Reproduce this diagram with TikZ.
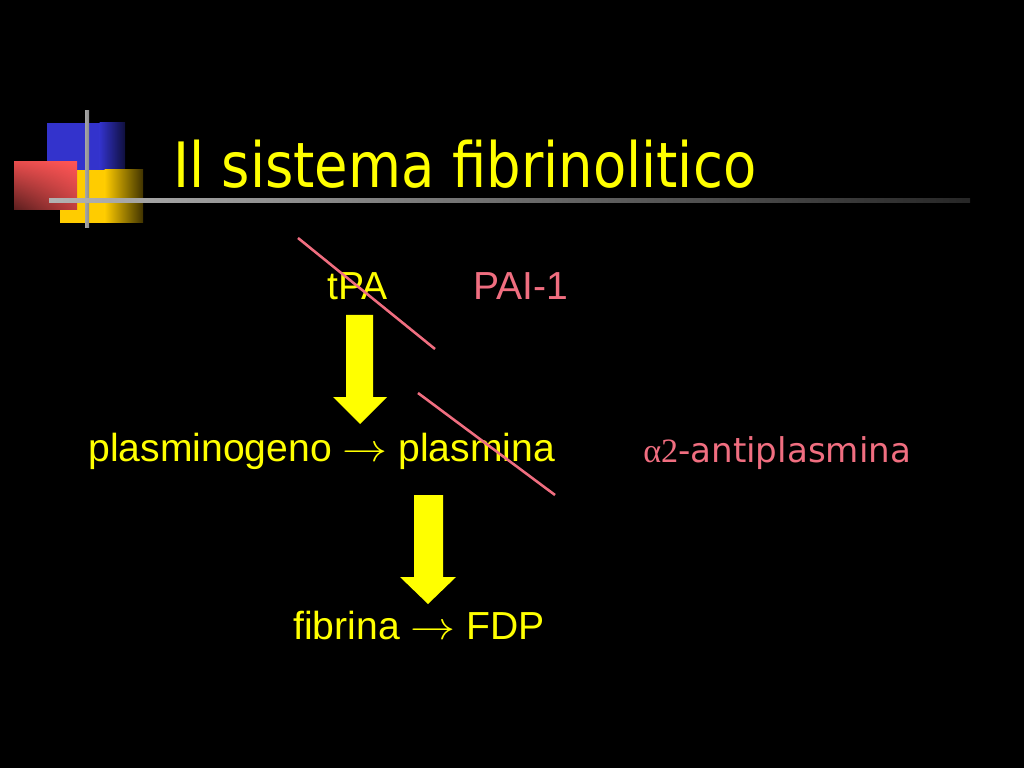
\RequirePackage{fix-cm}
\documentclass[tikz,border=0pt]{standalone}
\usetikzlibrary{shadings}
\usepackage{fontspec}
\setmainfont{Liberation Sans}
\newfontfamily\titlefont[FakeStretch=0.87]{DejaVu Sans}
\newfontfamily\tahomafont{DejaVu Sans}
\newfontfamily\greekfont{Liberation Serif}
\newcommand{\reacto}{\scalebox{1.15}[1]{$\rightarrow$}}
\definecolor{slideyellow}{RGB}{255,255,0}
\definecolor{inhibpink}{RGB}{240,110,128}
\definecolor{logoblue}{RGB}{51,51,204}
\definecolor{logogold}{RGB}{255,204,0}
\definecolor{logored}{RGB}{255,85,85}
\begin{document}
\begin{tikzpicture}[x=0.703125pt,y=-0.703125pt,
    txt/.style={anchor=base west,inner sep=0pt,text=slideyellow,font=\fontsize{27.5}{33}\selectfont},
    inhib/.style={inhibpink,line width=1.8pt},
    blockarrow/.style={fill=slideyellow}]
  \fill[black] (0,0) rectangle (1024,768);
  \useasboundingbox (0,0) rectangle (1024,768);
  % logo
  \fill[logoblue] (47,123) rectangle (100,170);
  \shade[left color=logoblue,right color=logoblue!30!black] (99.5,123) rectangle (125,170);
  \fill[logogold] (60,170) rectangle (105,223);
  \shade[left color=logogold,right color=logogold!25!black] (104.5,170) rectangle (143,223);
  \shade[upper right=logored,upper left=logored!90!black,lower right=logored!75!black,lower left=logored!35!black]
    (14,162) rectangle (77,210);
  \shade[left color=black!35,right color=black!45] (85,111) rectangle (89,228);
  \shade[left color=black!30,right color=black!85] (49,199) rectangle (970,203);
  % title
  \node[anchor=base west,inner sep=0pt,text=slideyellow,font=\titlefont\fontsize{44}{52}\selectfont]
    (title) at (173,188) {Il sistema fibrinolitico};
  % texts
  \node[txt] (tpa) at (327,300) {tPA};
  \node[txt,text=inhibpink] (pai) at (473,300) {PAI-1};
  \node[txt] (plg) at (88,461) {plasminogeno \reacto{} plasmina};
  \node[txt,text=inhibpink,font=\fontsize{24}{29}\selectfont] (antipl) at (643,462)
    {{\greekfont α2}{\tahomafont-antiplasmina}};
  \node[txt] (fib) at (293,639) {fibrina \reacto{} FDP};
  % yellow arrows
  \fill[blockarrow] (346,315) -- (373,315) -- (373,397) -- (387,397) -- (360,424)
    -- (333,397) -- (346,397) -- cycle;
  \fill[blockarrow] (414,495) -- (443,495) -- (443,577) -- (456,577) -- (428,604)
    -- (400,577) -- (414,577) -- cycle;
  % strike lines
  \coordinate (s1) at (298,238);
  \coordinate (e1) at (435,349);
  \coordinate (s2) at (418,393);
  \coordinate (e2) at (555,495);
  \draw[inhib] (s1) -- (e1);
  \draw[inhib] (s2) -- (e2);
\end{tikzpicture}
\end{document}
